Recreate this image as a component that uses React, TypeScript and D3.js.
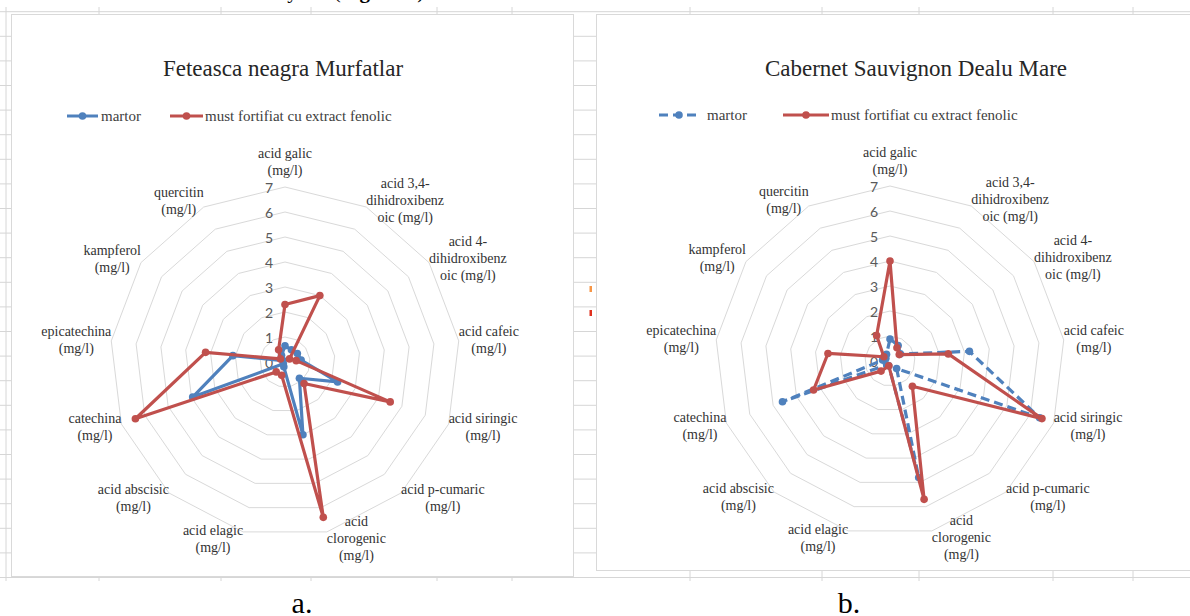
import React from 'react';
import * as d3 from 'd3';

// ---------- data ----------
const AXIS_LABELS: string[][] = [
  ['acid galic', '(mg/l)'],
  ['acid 3,4-', 'dihidroxibenz', 'oic (mg/l)'],
  ['acid 4-', 'dihidroxibenz', 'oic (mg/l)'],
  ['acid cafeic', '(mg/l)'],
  ['acid siringic', '(mg/l)'],
  ['acid p-cumaric', '(mg/l)'],
  ['acid', 'clorogenic', '(mg/l)'],
  ['acid elagic', '(mg/l)'],
  ['acid abscisic', '(mg/l)'],
  ['catechina', '(mg/l)'],
  ['epicatechina', '(mg/l)'],
  ['kampferol', '(mg/l)'],
  ['quercitin', '(mg/l)'],
];
const TICKS = [0, 1, 2, 3, 4, 5, 6, 7];
const SERIES_NAMES = ['martor', 'must fortifiat cu extract fenolic'];
const TITLE_A = 'Feteasca neagra Murfatlar';
const TITLE_B = 'Cabernet Sauvignon Dealu Mare';
const PANEL_LABELS = ['a.', 'b.'];

const feteascaMartor = [0.65, 0.55, 0.6, 0.65, 2.25, 0.87, 3.0, 0.2, 0.1, 3.95, 2.1, 0.1, 0.3];
const feteascaFortifiat = [2.3, 3.0, 0.22, 0.45, 4.5, 1.15, 6.4, 0.55, 0.53, 6.4, 3.2, 0.22, 0.55];
const cabernetMartor = [0.88, 0.7, 0.5, 3.2, 6.4, 0.4, 4.8, 0.2, 0.2, 4.6, 0.3, 0.2, 0.3];
const cabernetFortifiat = [4.0, 0.6, 0.45, 2.35, 6.5, 1.35, 5.7, 0.2, 0.54, 3.27, 2.5, 0.3, 1.15];

// ---------- style ----------
const W = 1190;
const H = 616;
const BLUE = '#4f81bd';
const RED = '#c0504d';
const GRID = '#d9d9d9';
const SHEET = '#d6d6d6';
const SERIF = "'Liberation Serif', 'Times New Roman', serif";
const SANS = "Lato, 'Liberation Sans', sans-serif";
const OUTER_R = 175;

let ctx: CanvasRenderingContext2D | null = null;
function textW(s: string, font: string): number {
  if (!ctx) ctx = document.createElement('canvas').getContext('2d');
  if (!ctx) return s.length * 7;
  ctx.font = font;
  return ctx.measureText(s).width;
}

type LegendItem = { x1: number; x2: number; tx: number };
type RadarProps = {
  cx: number;
  cy: number;
  title: string;
  titleX: number;
  legendY: number;
  legend: LegendItem[];
  martor: number[];
  fortifiat: number[];
  dashed: boolean;
};

function Radar({ cx, cy, title, titleX, legendY, legend, martor, fortifiat, dashed }: RadarProps) {
  const n = AXIS_LABELS.length;
  const r = d3.scaleLinear().domain([0, 7]).range([0, OUTER_R]);
  const ang = d3.scaleLinear().domain([0, n]).range([0, 2 * Math.PI]);
  const radial = d3
    .lineRadial<number>()
    .angle((_, i) => ang(i))
    .radius((v) => r(v))
    .curve(d3.curveLinearClosed);
  const rings = TICKS.filter((t) => t > 0);
  const labelSize = 14;
  const labelFont = `${labelSize}px ${SERIF}`;
  const lh = 17;

  const series = [
    { name: SERIES_NAMES[0], values: martor, color: BLUE, dash: dashed ? '9,5' : undefined },
    { name: SERIES_NAMES[1], values: fortifiat, color: RED, dash: undefined },
  ];

  return (
    <g>
      <text
        x={titleX}
        y={68}
        textAnchor="middle"
        dominantBaseline="central"
        fontFamily={SERIF}
        fontSize={23}
        fill="#262626"
      >
        {title}
      </text>
      {series.map((s, k) => {
        const it = legend[k];
        const mid = (it.x1 + it.x2) / 2;
        return (
          <g key={s.name}>
            <line
              x1={it.x1}
              x2={it.x2}
              y1={legendY}
              y2={legendY}
              stroke={s.color}
              strokeWidth={3}
              strokeDasharray={s.dash}
            />
            <circle cx={mid} cy={legendY} r={3.8} fill={s.color} />
            <text
              x={it.tx}
              y={legendY}
              dominantBaseline="central"
              fontFamily={SERIF}
              fontSize={15}
              fill="#404040"
            >
              {s.name}
            </text>
          </g>
        );
      })}
      <g transform={`translate(${cx},${cy})`}>
        {rings.map((t) => (
          <path key={t} d={radial(new Array(n).fill(t)) || ''} fill="none" stroke={GRID} strokeWidth={1} />
        ))}
        {TICKS.map((t) => (
          <text
            key={t}
            x={-12}
            y={-r(t)}
            textAnchor="end"
            dominantBaseline="central"
            fontFamily={SANS}
            fontSize={14}
            fill="#595959"
          >
            {t}
          </text>
        ))}
        {series.map((s) => (
          <g key={s.name}>
            <path
              d={radial(s.values) || ''}
              fill="none"
              stroke={s.color}
              strokeWidth={3.2}
              strokeLinejoin="round"
              strokeDasharray={s.dash}
            />
            {s.values.map((v, i) => {
              const [px, py] = d3.pointRadial(ang(i), r(v));
              return <circle key={i} cx={px} cy={py} r={3.8} fill={s.color} />;
            })}
          </g>
        ))}
      </g>
      {AXIS_LABELS.map((lines, i) => {
        const a = ang(i);
        const s = Math.sin(a);
        const c = Math.cos(a);
        const bw = Math.max(...lines.map((l) => textW(l, labelFont)));
        const bh = lines.length * lh;
        let xc: number;
        let yc: number;
        if (Math.abs(s) < 0.01) {
          xc = cx;
          yc = cy - OUTER_R - 8 - bh / 2;
        } else {
          const x0 = cx + OUTER_R * s;
          xc = s > 0 ? x0 + bw / 2 : x0 - bw / 2;
          yc = cy - 182 * c;
        }
        const y0 = yc - ((lines.length - 1) * lh) / 2;
        return (
          <text
            key={i}
            textAnchor="middle"
            fontFamily={SERIF}
            fontSize={labelSize}
            fill="#333333"
          >
            {lines.map((l, j) => (
              <tspan key={j} x={xc} y={y0 + j * lh} dominantBaseline="central">
                {l}
              </tspan>
            ))}
          </text>
        );
      })}
    </g>
  );
}

export default function App() {
  const rowYs = d3.range(0, 24).map((k) => 11.7 + k * 24.6);
  const colXs = [6, 99, 221, 311, 437, 512, 690, 822, 919, 1053, 1133];
  return (
    <svg
      width={W}
      height={H}
      viewBox={`0 0 ${W} ${H}`}
      style={{ position: 'absolute', left: 0, top: 0, background: '#fff' }}
    >
      <rect x={0} y={0} width={W} height={H} fill="#fff" />
      {/* clipped line of the surrounding document text */}
      <text x={177} y={-2.5} fontFamily={SERIF} fontSize={21} fill="#000">
        determined by the (<tspan fontWeight="bold">Figura 3</tspan>)
      </text>
      {/* spreadsheet grid */}
      <g stroke={SHEET} strokeWidth={1}>
        {rowYs.map((y) => (
          <line key={y} x1={0} x2={W} y1={y} y2={y} />
        ))}
        {colXs.map((x) => (
          <line key={x} x1={x} x2={x} y1={7} y2={581} />
        ))}
      </g>
      {/* chart frames */}
      <rect x={11.5} y={14.5} width={562} height={562} fill="#fff" stroke={GRID} />
      <rect x={596.5} y={14.5} width={610} height={556} fill="#fff" stroke={GRID} />
      {/* stray marks between charts */}
      <rect x={589.5} y={286} width={2.5} height={6} fill="#f79646" />
      <rect x={589.5} y={310} width={2.5} height={6} fill="#e0301e" />

      <Radar
        cx={285}
        cy={362}
        title={TITLE_A}
        titleX={283}
        legendY={116}
        legend={[
          { x1: 67, x2: 98, tx: 101 },
          { x1: 170, x2: 203, tx: 205 },
        ]}
        martor={feteascaMartor}
        fortifiat={feteascaFortifiat}
        dashed={false}
      />
      <Radar
        cx={890}
        cy={361}
        title={TITLE_B}
        titleX={916}
        legendY={115}
        legend={[
          { x1: 659, x2: 699, tx: 707 },
          { x1: 783, x2: 829, tx: 831 },
        ]}
        martor={cabernetMartor}
        fortifiat={cabernetFortifiat}
        dashed={true}
      />
      <text x={302} y={613} textAnchor="middle" fontFamily={SERIF} fontSize={30} fill="#000">
        {PANEL_LABELS[0]}
      </text>
      <text x={849} y={613} textAnchor="middle" fontFamily={SERIF} fontSize={30} fill="#000">
        {PANEL_LABELS[1]}
      </text>
    </svg>
  );
}
